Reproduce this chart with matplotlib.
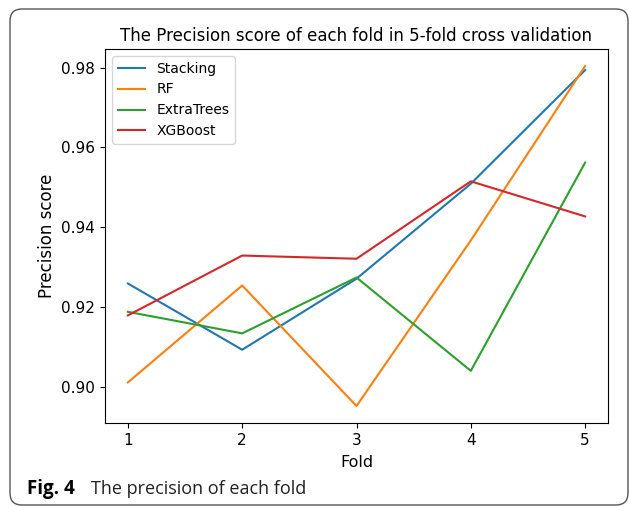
import matplotlib.pyplot as plt
from matplotlib.patches import FancyBboxPatch

plt.rcParams['font.family'] = ['DejaVu Sans']

# fold numbers and precision per model
folds = [1, 2, 3, 4, 5]
stacking = [0.9259, 0.9093, 0.9271, 0.9509, 0.9794]
rf = [0.9011, 0.9254, 0.8952, 0.9367, 0.9804]
extra_trees = [0.9188, 0.9134, 0.9274, 0.9040, 0.9562]
xgboost = [0.9179, 0.9329, 0.9321, 0.9515, 0.9427]

fig = plt.figure(figsize=(6.29, 5.07), dpi=100)
ax = fig.add_axes([105 / 629, 84 / 507, 503 / 629, 374 / 507])

ax.plot(folds, stacking, label='Stacking')
ax.plot(folds, rf, label='RF')
ax.plot(folds, extra_trees, label='ExtraTrees')
ax.plot(folds, xgboost, label='XGBoost')

ax.set_xticks(folds)
ax.set_title('The Precision score of each fold in 5-fold cross validation', fontsize=12)
ax.set_xlabel('Fold', fontsize=11.5, labelpad=5)
ax.set_ylabel('Precision score', fontsize=12, labelpad=4)
ax.tick_params(labelsize=11)
ax.legend(loc='upper left')

# rounded frame around the whole figure + caption
frame = FancyBboxPatch((10, 2), 618, 496, boxstyle='round,pad=0,rounding_size=12',
                       transform=None, facecolor='none', edgecolor='#555555', linewidth=1.0)
fig.patches.append(frame)

fig.text(27 / 629, 13 / 507, 'Fig. 4', fontsize=13.5, fontweight='bold', family='Open Sans', va='baseline')
fig.text(91 / 629, 13 / 507, 'The precision of each fold', fontsize=13, family='Open Sans',
         va='baseline', color='#222222')

fig.savefig('out.png', dpi=100)
